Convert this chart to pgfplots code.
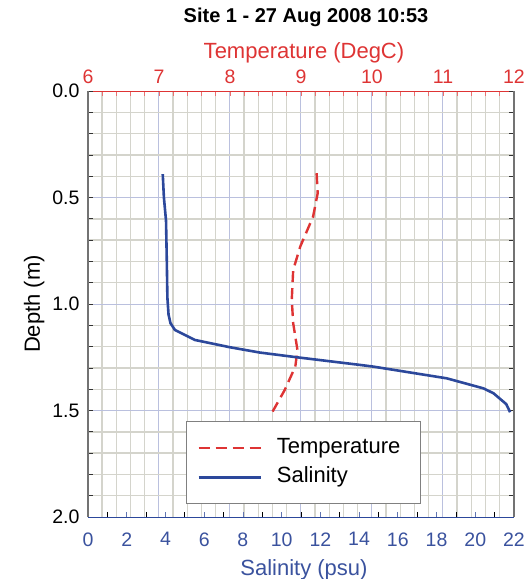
\documentclass[border=0pt]{standalone}
\usepackage{pgfplots}
\pgfplotsset{compat=1.18}
\usepackage{fontspec}
\setmainfont{Liberation Sans}

\definecolor{tred}{RGB}{222,52,52}
\definecolor{sblue}{RGB}{44,72,155}
\definecolor{lblue}{RGB}{58,82,158}
\definecolor{gridgray}{RGB}{212,212,204}
\definecolor{gridblue}{RGB}{186,192,222}

\newcommand{\tickfont}{\fontsize{19.5}{22}\selectfont}
\newcommand{\labfont}{\fontsize{22}{26}\selectfont}

% depth profiles
\pgfplotstableread{
sal depth
3.86 0.39
3.92 0.50
4.03 0.61
4.07 0.80
4.10 0.97
4.16 1.05
4.26 1.09
4.49 1.122
5.53 1.169
7.33 1.203
8.88 1.228
10.78 1.250
14.05 1.286
14.74 1.294
18.53 1.349
20.42 1.396
20.94 1.419
21.60 1.470
21.80 1.508
}\saltab

\pgfplotstableread{
temp depth
9.22 0.386
9.235 0.48
9.17 0.59
8.99 0.73
8.89 0.84
8.87 0.98
8.89 1.09
8.95 1.216
8.92 1.294
8.77 1.404
8.60 1.505
}\temptab

\begin{document}
\begin{tikzpicture}
\path[use as bounding box] (-88pt,-62pt) rectangle (443pt,517pt);
\pgfplotsset{
  common/.style={
    scale only axis, width=426pt, height=426pt,
    at={(0pt,0pt)}, anchor=south west,
    ymin=0, ymax=2, y dir=reverse,
    ytick={0,0.5,...,2}, minor y tick num=4,
    tick align=inside, major tick length=5pt, minor tick length=5pt,
    /pgf/number format/assume math mode=true,
    tick label style={font=\tickfont},
    label style={font=\labfont},
  },
}
% temperature axis (top) carries the grid
\begin{axis}[common,
  xmin=6, xmax=12, xtick={6,...,12}, minor x tick num=4,
  axis x line*=top, axis y line*=left,
  y axis line style={draw=none}, ytick style={draw=none}, yticklabels={},
  x axis line style={tred, line width=0.8pt},
  xtick style={tred!70, line width=0.8pt},
  xticklabel style={text=tred, yshift=3.5pt},
  xlabel={Temperature (DegC)}, xlabel style={text=tred, yshift=0.5pt, xshift=3pt},
  grid=both,
  major grid style={gridblue, line width=1pt},
  minor grid style={gridgray, line width=1.4pt},
]
\addplot[tred, line width=2.4pt, dash pattern=on 11pt off 6pt] table[x=temp, y=depth] {\temptab};
\end{axis}
% salinity axis (bottom)
\begin{axis}[common,
  xmin=0, xmax=22, xtick={0,2,...,22}, minor x tick num=1,
  axis x line*=bottom,
  x axis line style={sblue, line width=0.8pt},
  y axis line style={black!55, line width=1.4pt},
  xtick style={lblue!80, line width=0.8pt},
  minor x tick style={black},
  ytick style={black!80, line width=0.8pt},
  xticklabel style={text=lblue, yshift=-12pt},
  yticklabel style={xshift=-5pt, /pgf/number format/fixed, /pgf/number format/fixed zerofill, /pgf/number format/precision=1},
  xlabel={Salinity (psu)}, xlabel style={text=lblue, yshift=-6pt, xshift=3pt},
  ylabel={Depth (m)}, ylabel style={yshift=1pt},
  legend style={at={(0.230,0.0305)}, anchor=south west, draw=black!50, line width=0.6pt,
    font=\labfont, inner xsep=11pt, inner ysep=13pt, row sep=2pt,
    nodes={text height=16pt, text depth=5pt, inner sep=3pt},
    /tikz/every odd column/.append style={column sep=12pt}},
  legend cell align=left,
  legend image code/.code={\draw[#1] (0pt,0pt) -- (62pt,0pt);},
]
\addlegendimage{tred, line width=2.4pt, dash pattern=on 11pt off 6pt}
\addlegendentry{Temperature\hspace*{6pt}}
\addplot[sblue, line width=2.6pt] table[x=sal, y=depth] {\saltab};
\addlegendentry{Salinity}
\end{axis}
\node[font=\bfseries\fontsize{20}{24}\selectfont] at (218pt,500pt) {Site 1 - 27 Aug 2008 10:53};
\end{tikzpicture}
\end{document}
